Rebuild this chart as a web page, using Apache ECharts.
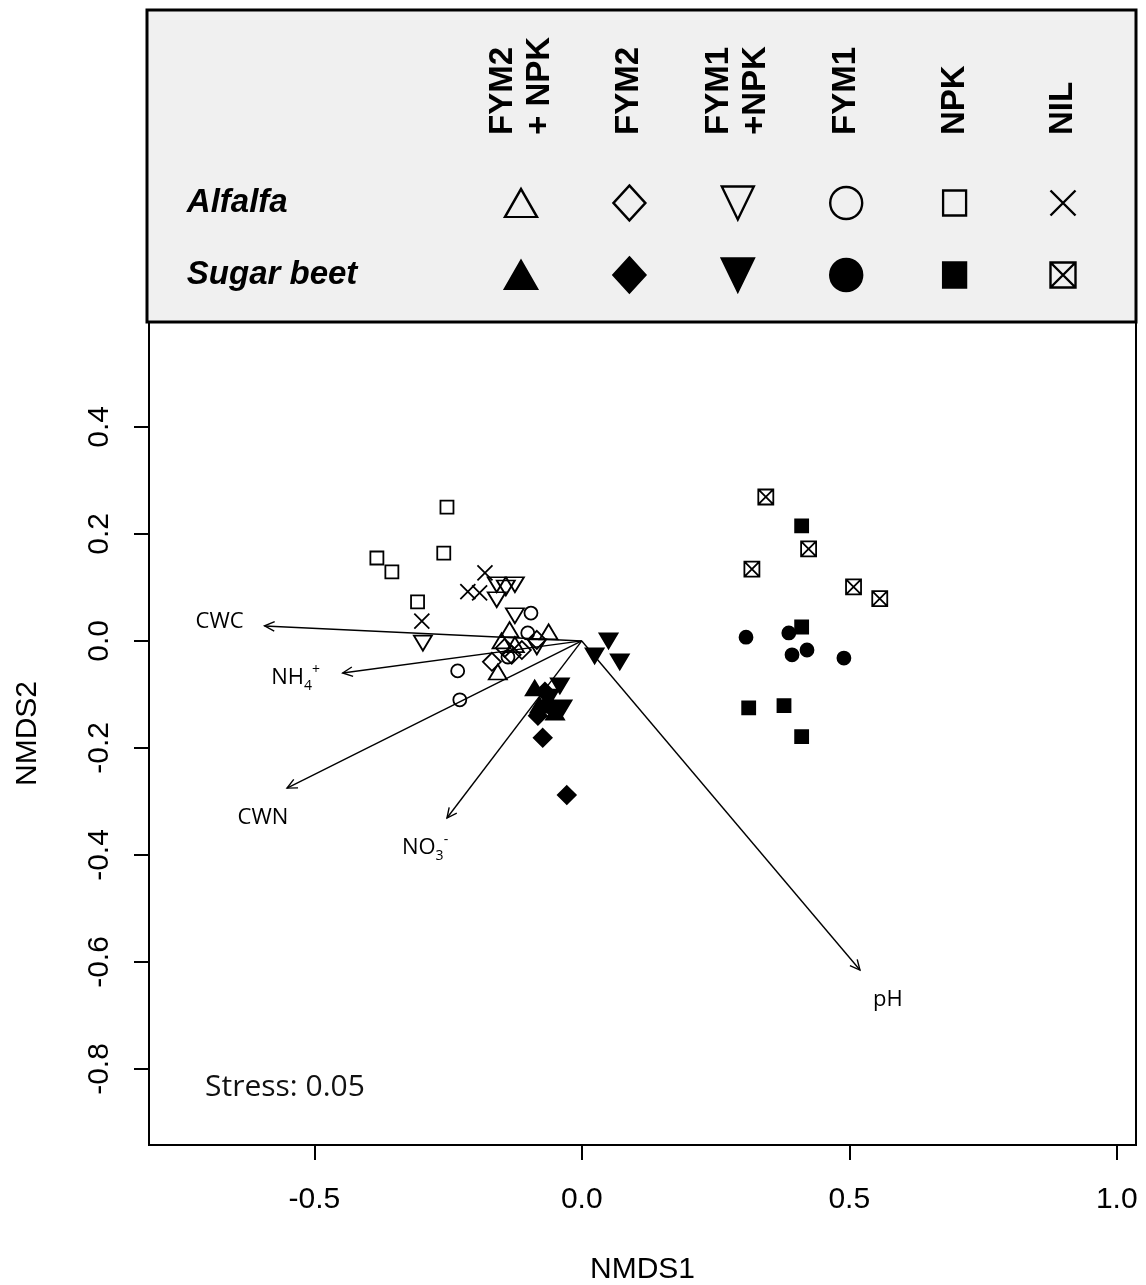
<!DOCTYPE html>
<html>
<head>
<meta charset="utf-8">
<script src="https://cdn.jsdelivr.net/npm/echarts@6/dist/echarts.min.js"></script>
<style>
  html, body { margin: 0; padding: 0; background: #fff; }
  #chart { width: 1146px; height: 1285px; }
</style>
</head>
<body>
<div id="chart"></div>
<script>
// ---- NMDS site scores [NMDS1, NMDS2] by crop and fertiliser treatment ----
const alfalfa_FYM2_NPK = [[-0.062, 0.017], [-0.150, 0.000], [-0.157, -0.058], [-0.125, -0.007], [-0.135, 0.021]];
const alfalfa_FYM2     = [[-0.168, -0.039], [-0.131, -0.026], [-0.084, 0.002], [-0.144, -0.013], [-0.112, -0.017]];
const alfalfa_FYM1_NPK = [[-0.159, 0.105], [-0.125, 0.105], [-0.142, 0.099], [-0.159, 0.077], [-0.125, 0.047], [-0.297, -0.004], [-0.084, -0.011]];
const alfalfa_FYM1     = [[-0.095, 0.052], [-0.101, 0.015], [-0.232, -0.056], [-0.228, -0.110], [-0.138, -0.030]];
const alfalfa_NPK      = [[-0.252, 0.250], [-0.383, 0.155], [-0.355, 0.129], [-0.258, 0.164], [-0.307, 0.073]];
const alfalfa_NIL      = [[-0.181, 0.127], [-0.213, 0.092], [-0.191, 0.090], [-0.299, 0.037]];

const sugarbeet_FYM2_NPK = [[-0.088, -0.088], [-0.064, -0.110], [-0.050, -0.133], [-0.079, -0.120]];
const sugarbeet_FYM2     = [[-0.073, -0.181], [-0.028, -0.288], [-0.082, -0.140], [-0.056, -0.125], [-0.069, -0.095]];
const sugarbeet_FYM1_NPK = [[0.050, 0.000], [0.024, -0.028], [0.071, -0.039], [-0.041, -0.084], [-0.060, -0.105], [-0.036, -0.125]];
const sugarbeet_FYM1     = [[0.307, 0.007], [0.387, 0.015], [0.393, -0.026], [0.421, -0.017], [0.490, -0.032]];
const sugarbeet_NPK      = [[0.411, 0.215], [0.411, 0.026], [0.312, -0.125], [0.378, -0.121], [0.411, -0.179]];
const sugarbeet_NIL      = [[0.344, 0.269], [0.424, 0.172], [0.318, 0.134], [0.508, 0.101], [0.557, 0.079]];

// ---- fitted environmental vectors (arrow tips) and their label anchors ----
const envNames   = ['CWC', 'NH4+', 'CWN', 'NO3-', 'pH'];
const envX       = [-0.593, -0.447, -0.551, -0.252, 0.520];
const envY       = [0.028, -0.060, -0.275, -0.331, -0.615];
const envLabelX  = [-0.677, -0.535, -0.596, -0.293, 0.572];
const envLabelY  = [0.036, -0.069, -0.331, -0.387, -0.671];

// ---- axes, key ----
const xTicks = [-0.5, 0.0, 0.5, 1.0];
const yTicks = [-0.8, -0.6, -0.4, -0.2, 0.0, 0.2, 0.4];
const treatmentLabels = ['FYM2\n+ NPK', 'FYM2', 'FYM1\n+NPK', 'FYM1', 'NPK', 'NIL'];
const cropLabels = ['Alfalfa', 'Sugar beet'];
const stressText = 'Stress: 0.05';

// ---------------------------------------------------------------------------
const NARROW = '"Liberation Sans Narrow", "Liberation Sans", Arial, sans-serif';
const SANS = '"Liberation Sans", Arial, sans-serif';
const LABEL_FONT = '"Open Sans", "Noto Sans", sans-serif';

const CROSS = 'path://M0,0L10,10M10,0L0,10';
const BOXED_CROSS = 'path://M0,0L10,0L10,10L0,10ZM0,0L10,10M10,0L0,10';

// marker per treatment: symbol, rotation, plot size, key size
const markers = [
  { symbol: 'triangle', rotate: 0,   plot: [18, 15], key: [32, 28] },
  { symbol: 'diamond',  rotate: 0,   plot: [18, 18], key: [32, 35] },
  { symbol: 'triangle', rotate: 180, plot: [18, 15], key: [32, 33] },
  { symbol: 'circle',   rotate: 0,   plot: [13, 13], key: [32, 32] },
  { symbol: 'rect',     rotate: 0,   plot: [13, 13], key: [23, 25] },
  { symbol: CROSS,      rotate: 0,   plot: [15, 15], key: [25, 25] }
];

function markerStyle(t, filled) {
  const m = markers[t];
  let symbol = m.symbol;
  let color = filled ? '#000' : 'rgba(0,0,0,0)';
  if (t === 5 && filled) { symbol = BOXED_CROSS; color = 'rgba(0,0,0,0)'; }
  return { symbol, rotate: m.rotate, color };
}

const seriesData = [
  [alfalfa_FYM2_NPK, alfalfa_FYM2, alfalfa_FYM1_NPK, alfalfa_FYM1, alfalfa_NPK, alfalfa_NIL],
  [sugarbeet_FYM2_NPK, sugarbeet_FYM2, sugarbeet_FYM1_NPK, sugarbeet_FYM1, sugarbeet_NPK, sugarbeet_NIL]
];

const series = [];

// environmental vectors drawn first so points sit on top
const richLabels = {
  'CWC': 'CWC',
  'NH4+': 'NH{sub|4}{sup|+}',
  'CWN': 'CWN',
  'NO3-': 'NO{sub|3}{sup|-}',
  'pH': 'pH'
};
series.push({
  type: 'custom',
  name: 'vectors',
  xAxisIndex: 0, yAxisIndex: 0,
  z: 1,
  silent: true,
  data: envX.map((x, i) => [x, envY[i], envLabelX[i], envLabelY[i]]),
  encode: { x: 0, y: 1 },
  renderItem(params, api) {
    const o = api.coord([0, 0]);
    const t = api.coord([api.value(0), api.value(1)]);
    const l = api.coord([api.value(2), api.value(3)]);
    const a = Math.atan2(t[1] - o[1], t[0] - o[0]);
    const h = 11, sp = Math.PI / 7;
    const p1 = [t[0] - h * Math.cos(a - sp), t[1] - h * Math.sin(a - sp)];
    const p2 = [t[0] - h * Math.cos(a + sp), t[1] - h * Math.sin(a + sp)];
    return {
      type: 'group',
      children: [
        { type: 'line', shape: { x1: o[0], y1: o[1], x2: t[0], y2: t[1] },
          style: { stroke: '#000', lineWidth: 1.4 } },
        { type: 'polyline', shape: { points: [p1, t, p2] },
          style: { stroke: '#000', fill: null, lineWidth: 1.4 } },
        { type: 'text', x: l[0], y: l[1],
          style: {
            text: richLabels[envNames[params.dataIndex]],
            fontFamily: LABEL_FONT, fontSize: 22, fill: '#000',
            align: 'center', verticalAlign: 'middle', lineHeight: 30,
            rich: {
              sub: { fontFamily: LABEL_FONT, fontSize: 14, lineHeight: 14, verticalAlign: 'bottom', fill: '#000' },
              sup: { fontFamily: LABEL_FONT, fontSize: 14, lineHeight: 14, verticalAlign: 'top', fill: '#000' }
            }
          } }
      ]
    };
  }
});

// sample points
for (let c = 0; c < 2; c++) {
  for (let t = 0; t < 6; t++) {
    const st = markerStyle(t, c === 1);
    series.push({
      type: 'scatter',
      name: cropLabels[c] + ' ' + treatmentLabels[t].replace('\n', ' '),
      xAxisIndex: 0, yAxisIndex: 0,
      z: 3,
      symbol: st.symbol,
      symbolRotate: st.rotate,
      symbolSize: markers[t].plot,
      itemStyle: { color: st.color, borderColor: '#000', borderWidth: 1.8, opacity: 1 },
      emphasis: { disabled: true },
      data: seriesData[c][t]
    });
  }
}

// key symbols: one per treatment (column) and crop (row)
const keyData = [];
for (let c = 0; c < 2; c++) {
  for (let t = 0; t < 6; t++) {
    const st = markerStyle(t, c === 1);
    keyData.push({
      value: [t, c],
      symbol: st.symbol,
      symbolRotate: st.rotate,
      symbolSize: markers[t].key,
      itemStyle: { color: st.color, borderColor: '#000', borderWidth: 2.4, opacity: 1 }
    });
  }
}
series.push({
  type: 'scatter',
  name: 'key',
  xAxisIndex: 1, yAxisIndex: 1,
  z: 20,
  silent: true,
  emphasis: { disabled: true },
  data: keyData
});

const chart = echarts.init(document.getElementById('chart'), null, { renderer: 'canvas' });
chart.setOption({
  backgroundColor: '#fff',
  animation: false,
  grid: [
    { left: 149, right: 10, top: 322, bottom: 140, show: true, borderColor: '#000', borderWidth: 2,
      backgroundColor: '#fff', outerBoundsMode: 'none', containLabel: false },
    { left: 466.8, right: 28.8, top: 167, bottom: 974, show: false, outerBoundsMode: 'none', containLabel: false }
  ],
  xAxis: [
    {
      gridIndex: 0, type: 'value', min: -0.809, max: 1.036, position: 'bottom',
      axisLine: { show: false, onZero: false }, splitLine: { show: false },
      axisTick: { show: true, length: 15, customValues: xTicks, lineStyle: { color: '#000', width: 2 } },
      axisLabel: { customValues: xTicks, formatter: v => v.toFixed(1), margin: 40,
                   fontSize: 30, fontFamily: NARROW, color: '#000' },
      name: 'NMDS1', nameLocation: 'middle', nameGap: 110,
      nameTextStyle: { fontSize: 30, fontFamily: NARROW, color: '#000' }
    },
    {
      gridIndex: 1, type: 'category', position: 'top', data: treatmentLabels, z: 20,
      axisLine: { show: false, onZero: false }, axisTick: { show: false }, splitLine: { show: false },
      axisLabel: { rotate: -90, margin: 32, interval: 0, fontSize: 33, fontWeight: 'bold',
                   fontFamily: SANS, color: '#000', lineHeight: 37, hideOverlap: false }
    }
  ],
  yAxis: [
    {
      gridIndex: 0, type: 'value', min: -0.942, max: 0.596, position: 'left',
      axisLine: { show: false, onZero: false }, splitLine: { show: false },
      axisTick: { show: true, length: 15, customValues: yTicks, lineStyle: { color: '#000', width: 2 } },
      axisLabel: { customValues: yTicks, formatter: v => v.toFixed(1), rotate: 90, margin: 34,
                   fontSize: 30, fontFamily: NARROW, color: '#000' },
      name: 'NMDS2', nameLocation: 'middle', nameRotate: 90, nameGap: 106,
      nameTextStyle: { fontSize: 30, fontFamily: NARROW, color: '#000' }
    },
    {
      gridIndex: 1, type: 'category', data: cropLabels, inverse: true, z: 20,
      axisLine: { show: false, onZero: false }, axisTick: { show: false }, splitLine: { show: false },
      axisLabel: { align: 'left', margin: 280, fontSize: 33, fontWeight: 'bold', fontStyle: 'italic',
                   fontFamily: SANS, color: '#000' }
    }
  ],
  graphic: [
    { type: 'rect', z: 10, shape: { x: 147, y: 10, width: 989, height: 312 },
      style: { fill: '#f0f0f0', stroke: '#000', lineWidth: 3 } },
    { type: 'text', z: 10, left: 205, top: 1072,
      style: { text: stressText, fontFamily: LABEL_FONT, fontSize: 30, fill: '#111' } }
  ],
  series
});
</script>
</body>
</html>
